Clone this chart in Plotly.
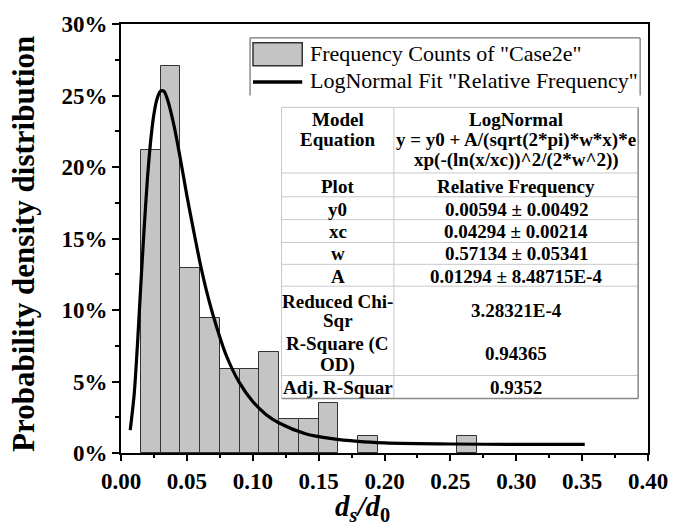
import plotly.graph_objects as go

# ---------------- data ----------------
bin_left = [0.015, 0.030, 0.045, 0.060, 0.075, 0.090, 0.105, 0.120, 0.135, 0.150, 0.180, 0.255]
bin_width = 0.015
freq_pct = [21.18, 27.06, 12.94, 9.41, 5.88, 5.88, 7.06, 2.35, 2.35, 3.53, 1.18, 1.18]

fit_x = [0.007, 0.010, 0.0125, 0.015, 0.0175, 0.020, 0.0225, 0.025, 0.0275, 0.030, 0.0325,
         0.035, 0.040, 0.045, 0.050, 0.055, 0.060, 0.065, 0.070, 0.080, 0.090, 0.100,
         0.110, 0.120, 0.140, 0.160, 0.180, 0.200, 0.250, 0.300, 0.352]
fit_y = [1.6, 4.1, 7.6, 11.7, 15.6, 19.1, 21.8, 23.7, 24.8, 25.3, 25.3,
         24.8, 23.0, 20.6, 18.0, 15.6, 13.3, 11.3, 9.6, 6.8, 4.9, 3.6,
         2.7, 2.1, 1.35, 1.0, 0.81, 0.71, 0.63, 0.60, 0.60]

x_ticks = [0.00, 0.05, 0.10, 0.15, 0.20, 0.25, 0.30, 0.35, 0.40]
y_ticks = [0, 5, 10, 15, 20, 25, 30]
y_tick_labels = ["0%", "5%", "10%", "15%", "20%", "25%", "30%"]

legend_labels = ['Frequency Counts of "Case2e"', 'LogNormal Fit "Relative Frequency"']

table_left = [["Model", "Equation"], ["Plot"], ["y0"], ["xc"], ["w"], ["A"],
              ["Reduced Chi-", "Sqr"], ["R-Square (C", "OD)"], ["Adj. R-Squar"]]
table_right = [["LogNormal", "y = y0 + A/(sqrt(2*pi)*w*x)*e", "xp(-(ln(x/xc))^2/(2*w^2))"],
               ["Relative Frequency"], ["0.00594 \u00b1 0.00492"], ["0.04294 \u00b1 0.00214"],
               ["0.57134 \u00b1 0.05341"], ["0.01294 \u00b1 8.48715E-4"],
               ["3.28321E-4"], ["0.94365"], ["0.9352"]]

# ---------------- layout geometry (pixels) ----------------
W, H = 680, 530
ML, MR, MT, MB = 121, 24, 21, 77
PW = W - ML - MR
PH = H - MT - MB


def X(px):
    return (px - ML) / PW


def Y(py):
    return (H - MB - py) / PH


SERIF = "Liberation Serif"

fig = go.Figure()
fig.add_trace(go.Bar(
    x=bin_left, y=freq_pct, width=bin_width, offset=0,
    marker=dict(color="#c4c4c4", line=dict(color="#333333", width=1)),
    name=legend_labels[0],
))
fig.add_trace(go.Scatter(
    x=fit_x, y=fit_y, mode="lines",
    line=dict(color="black", width=3.2, shape="spline", smoothing=0.8),
    name=legend_labels[1],
))

shapes = []
annotations = []

# ---- legend box (custom) ----
lc = "#555555"
shapes.append(dict(type="line", xref="paper", yref="paper", x0=X(252), x1=X(648), y0=Y(35), y1=Y(35), line=dict(color=lc, width=1)))
shapes.append(dict(type="line", xref="paper", yref="paper", x0=X(252), x1=X(252), y0=Y(35), y1=Y(93), line=dict(color=lc, width=1)))
shapes.append(dict(type="line", xref="paper", yref="paper", x0=X(648), x1=X(648), y0=Y(35), y1=Y(93), line=dict(color=lc, width=1)))
shapes.append(dict(type="rect", xref="paper", yref="paper", x0=X(255), x1=X(305), y0=Y(40), y1=Y(63),
                   fillcolor="#c4c4c4", line=dict(color="#333333", width=1.5)))
shapes.append(dict(type="line", xref="paper", yref="paper", x0=X(255), x1=X(305), y0=Y(79.5), y1=Y(79.5),
                   line=dict(color="black", width=3.5)))
for lbl, py in zip(legend_labels, [51, 78]):
    annotations.append(dict(xref="paper", yref="paper", x=X(311), y=Y(py), text=lbl, showarrow=False,
                            xanchor="left", yanchor="middle", font=dict(family=SERIF, size=22, color="black")))

# ---- fit table ----
T_L, T_R, T_DIV, T_TOP, T_BOT = 284, 646, 398, 105, 398
shapes.append(dict(type="rect", xref="paper", yref="paper", x0=X(T_L), x1=X(T_R), y0=Y(T_TOP), y1=Y(T_BOT),
                   fillcolor="white", line=dict(width=0)))
grid = "#c8c8c8"
for py in [T_TOP, 171, 195, 218, 241, 263, 285, 375]:
    shapes.append(dict(type="line", xref="paper", yref="paper", x0=X(T_L), x1=X(T_R), y0=Y(py), y1=Y(py),
                       line=dict(color=grid, width=1)))
shapes.append(dict(type="line", xref="paper", yref="paper", x0=X(T_L), x1=X(T_R), y0=Y(T_BOT), y1=Y(T_BOT),
                   line=dict(color="#888888", width=1.5)))
shapes.append(dict(type="line", xref="paper", yref="paper", x0=X(T_L), x1=X(T_L), y0=Y(T_TOP), y1=Y(T_BOT),
                   line=dict(color=grid, width=1)))
shapes.append(dict(type="line", xref="paper", yref="paper", x0=X(T_DIV), x1=X(T_DIV), y0=Y(T_TOP), y1=Y(T_BOT),
                   line=dict(color=grid, width=1)))
shapes.append(dict(type="line", xref="paper", yref="paper", x0=X(T_R), x1=X(T_R), y0=Y(T_TOP), y1=Y(T_BOT),
                   line=dict(color="#888888", width=1.5)))

left_rows_y = [[116.7, 137.7], [184.3], [207.3], [230], [252.3], [275], [300, 320], [343.3, 364.3], [386.7]]
right_rows_y = [[116.7, 137.7, 158.3], [184.3], [207.3], [230], [252.3], [275], [310], [353.3], [386.7]]
LC_X = (T_L + T_DIV) / 2
RC_X = (T_DIV + T_R) / 2
tfont = dict(family=SERIF, size=19, color="black", weight="bold")
for texts, ys in zip(table_left, left_rows_y):
    for t, py in zip(texts, ys):
        annotations.append(dict(xref="paper", yref="paper", x=X(LC_X), y=Y(py), text=t, showarrow=False,
                                xanchor="center", yanchor="middle", font=tfont))
for texts, ys in zip(table_right, right_rows_y):
    for t, py in zip(texts, ys):
        annotations.append(dict(xref="paper", yref="paper", x=X(RC_X), y=Y(py), text=t, showarrow=False,
                                xanchor="center", yanchor="middle", font=tfont))

# ---- axis titles ----
annotations.append(dict(xref="paper", yref="paper", x=X(22), y=Y(242), text="Probability density distribution",
                        textangle=-90, showarrow=False, xanchor="center", yanchor="middle",
                        font=dict(family=SERIF, size=31, color="black", weight="bold")))
annotations.append(dict(xref="paper", yref="paper", x=X(366), y=Y(508),
                        text="<i>d</i><sub><i>s</i></sub><i>/d</i><sub>0</sub>",
                        showarrow=False, xanchor="center", yanchor="middle",
                        font=dict(family=SERIF, size=29, color="black", weight="bold")))

tickfont = dict(family=SERIF, size=23, color="black", weight="bold")
fig.update_layout(
    width=W, height=H,
    margin=dict(l=ML, r=MR, t=MT, b=MB, pad=0),
    paper_bgcolor="white", plot_bgcolor="white",
    showlegend=False,
    bargap=0,
    shapes=shapes,
    annotations=annotations,
    xaxis=dict(range=[0, 0.4], tickvals=x_ticks, tickformat=".2f", showgrid=False, zeroline=False,
               showline=True, linecolor="black", linewidth=2, mirror=True,
               ticks="outside", ticklen=6, tickwidth=2, tickcolor="black", tickfont=tickfont,
               minor=dict(dtick=0.025, ticks="outside", ticklen=3, tickwidth=1.5, tickcolor="black")),
    yaxis=dict(range=[0, 30], tickvals=y_ticks, ticktext=y_tick_labels, showgrid=False, zeroline=False,
               showline=True, linecolor="black", linewidth=2, mirror=True,
               ticks="outside", ticklen=7, tickwidth=2, tickcolor="black", tickfont=tickfont,
               minor=dict(dtick=2.5, ticks="outside", ticklen=4, tickwidth=1.5, tickcolor="black")),
)

fig.write_html("out.html")
